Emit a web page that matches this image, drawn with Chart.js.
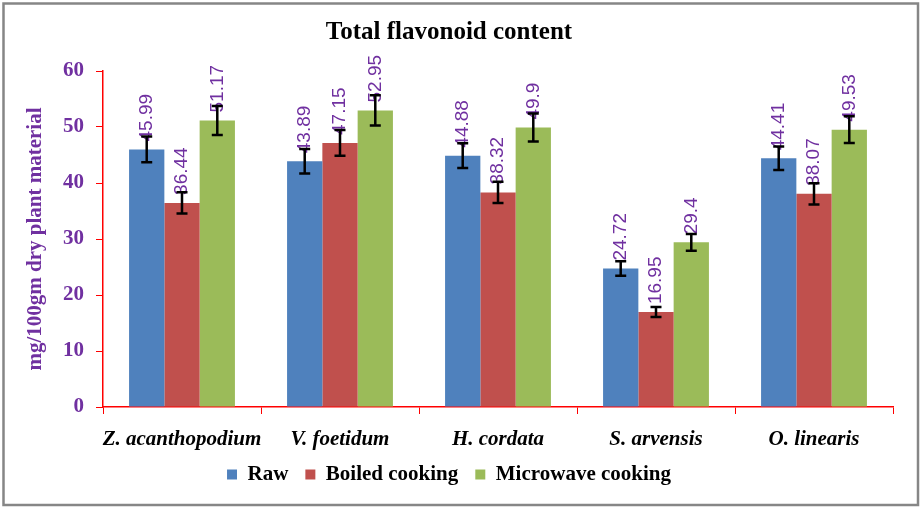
<!DOCTYPE html>
<html>
<head>
<meta charset="utf-8">
<script src="https://cdn.jsdelivr.net/npm/chart.js@4/dist/chart.umd.min.js"></script>
<style>
html,body{margin:0;padding:0;background:#fff;}
#wrap{width:922px;height:508px;position:relative;}
</style>
</head>
<body>
<div id="wrap"><canvas id="c" width="922" height="508"></canvas></div>
<script>
const categories = ['Z. acanthopodium', 'V. foetidum', 'H. cordata', 'S. arvensis', 'O. linearis'];
const seriesNames = ['Raw', 'Boiled cooking', 'Microwave cooking'];
const rawValues = [45.99, 43.89, 44.88, 24.72, 44.41];
const boiledValues = [36.44, 47.15, 38.32, 16.95, 38.07];
const microwaveValues = [51.17, 52.95, 49.9, 29.4, 49.53];
const rawErrors = [2.3, 2.2, 2.2, 1.3, 2.1];
const boiledErrors = [1.9, 2.3, 1.9, 0.9, 1.9];
const microwaveErrors = [2.6, 2.7, 2.5, 1.5, 2.4];
const yTicks = [0, 10, 20, 30, 40, 50, 60];

const PURPLE = '#7030A0';
const SERIF = "'Liberation Serif', 'Times New Roman', serif";
const SANS = "'Liberation Sans', Arial, sans-serif";

const errorSets = [rawErrors, boiledErrors, microwaveErrors];

const borderPlugin = {
  id: 'outerBorder',
  afterLayout(chart) {
    // let the category labels extend below the (compact) x-axis box without clipping
    const xs = chart.scales.x;
    xs.bottom = xs.top + 60;
  },
  afterDraw(chart) {
    const ctx = chart.ctx;
    ctx.save();
    ctx.strokeStyle = '#868686';
    ctx.lineWidth = 2.5;
    ctx.strokeRect(3.5, 3.5, 914.5, 501.5);
    ctx.restore();
  }
};

const labelErrorPlugin = {
  id: 'labelsAndErrors',
  afterDatasetsDraw(chart) {
    const ctx = chart.ctx;
    const yScale = chart.scales.y;
    ctx.save();
    chart.data.datasets.forEach((ds, di) => {
      const meta = chart.getDatasetMeta(di);
      meta.data.forEach((bar, i) => {
        ctx.save();
        ctx.translate(bar.x, bar.y - 8);
        ctx.rotate(-Math.PI / 2);
        ctx.fillStyle = PURPLE;
        ctx.font = '19px ' + SANS;
        ctx.textAlign = 'left';
        ctx.textBaseline = 'middle';
        ctx.fillText(String(ds.data[i]), 0, 0);
        ctx.restore();
      });
    });
    chart.data.datasets.forEach((ds, di) => {
      const meta = chart.getDatasetMeta(di);
      const errs = errorSets[di];
      meta.data.forEach((bar, i) => {
        const v = ds.data[i];
        const yTop = yScale.getPixelForValue(v + errs[i]);
        const yBot = yScale.getPixelForValue(v - errs[i]);
        ctx.strokeStyle = '#000';
        ctx.lineWidth = 2.5;
        ctx.beginPath();
        ctx.moveTo(bar.x, yTop);
        ctx.lineTo(bar.x, yBot);
        ctx.moveTo(bar.x - 5.5, yTop);
        ctx.lineTo(bar.x + 5.5, yTop);
        ctx.moveTo(bar.x - 5.5, yBot);
        ctx.lineTo(bar.x + 5.5, yBot);
        ctx.stroke();
      });
    });
    ctx.restore();
  }
};

new Chart(document.getElementById('c'), {
  type: 'bar',
  data: {
    labels: categories,
    datasets: [
      { label: seriesNames[0], data: rawValues, backgroundColor: '#4F81BD' },
      { label: seriesNames[1], data: boiledValues, backgroundColor: '#C0504D' },
      { label: seriesNames[2], data: microwaveValues, backgroundColor: '#9BBB59' }
    ]
  },
  options: {
    responsive: false,
    animation: false,
    devicePixelRatio: 1,
    layout: { padding: { left: 5, right: 29, top: 0, bottom: 13 } },
    datasets: { bar: { categoryPercentage: 0.67, barPercentage: 1.0 } },
    plugins: {
      tooltip: { enabled: false },
      title: {
        display: true,
        text: 'Total flavonoid content',
        color: '#000',
        font: { family: SERIF, size: 25, weight: 'bold' },
        padding: { top: 18, bottom: 23 }
      },
      legend: {
        position: 'bottom',
        labels: {
          color: '#000',
          font: { family: SERIF, size: 21, weight: 'bold' },
          boxWidth: 10,
          boxHeight: 10,
          padding: 17
        }
      }
    },
    scales: {
      x: {
        grid: { drawOnChartArea: false, drawTicks: true, tickLength: 7, color: 'red', offset: true },
        border: { color: 'red', width: 1.5 },
        ticks: {
          color: '#000',
          font: { family: SERIF, size: 21, weight: 'bold', style: 'italic' },
          padding: 13,
          maxRotation: 0,
          minRotation: 0,
          autoSkip: false
        },
        afterFit(scale) { scale.height = 40; }
      },
      y: {
        min: 0,
        max: 60,
        afterBuildTicks(scale) { scale.ticks = yTicks.map(v => ({ value: v })); },
        grid: { drawOnChartArea: false, drawTicks: true, tickLength: 7, color: 'red' },
        border: { color: 'red', width: 1.5 },
        ticks: {
          color: PURPLE,
          font: { family: SERIF, size: 21, weight: 'bold' },
          padding: 12
        },
        title: {
          display: true,
          text: 'mg/100gm dry plant material',
          color: PURPLE,
          font: { family: SERIF, size: 21, weight: 'bold' },
          padding: { top: 18, bottom: 4 }
        },
        afterFit(scale) { scale.width = 98; }
      }
    }
  },
  plugins: [labelErrorPlugin, borderPlugin]
});
</script>
</body>
</html>
